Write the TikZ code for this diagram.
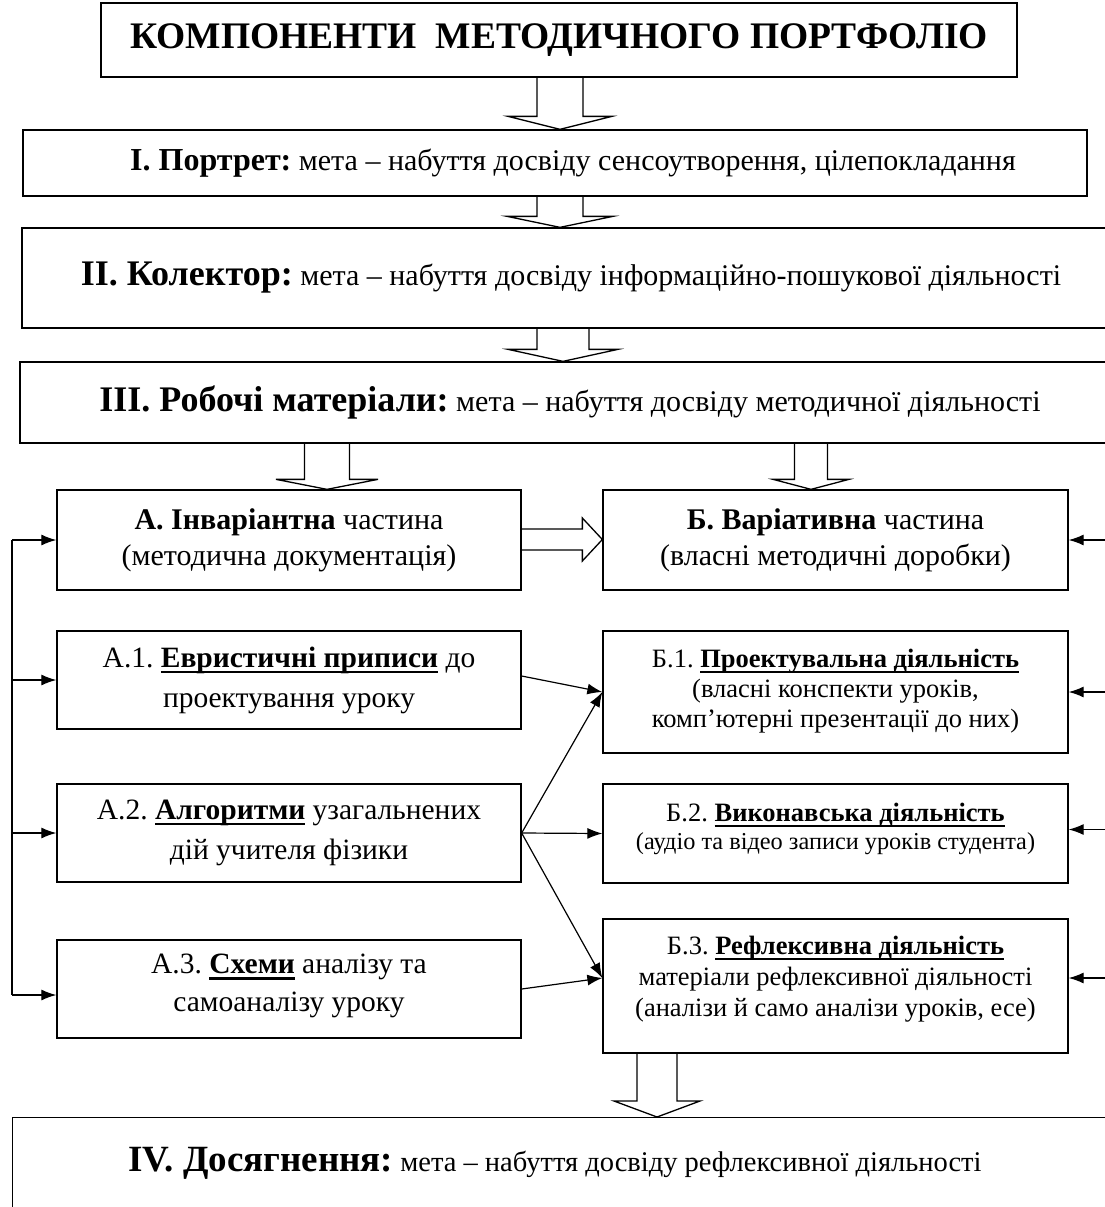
\documentclass[tikz,border=0pt]{standalone}
\usepackage{fontspec}
\setmainfont{Liberation Serif}
\usetikzlibrary{arrows.meta,calc}
\newsavebox\ulbox
\newcommand\ulb[1]{\sbox\ulbox{\bfseries #1}\rlap{\rule[-0.2em]{\wd\ulbox}{0.075em}}\usebox\ulbox}
\newcommand\fs[2]{\fontsize{#1}{#2}\selectfont}
\newcommand\blockdown[6]{%
  \draw[blk] let \p1=(#2), \p2=(#3) in
  (#1pt-#4pt,\y1) -- (#1pt-#4pt,\y2+#6pt) -- (#1pt-#5pt,\y2+#6pt) -- (#1pt,\y2)
  -- (#1pt+#5pt,\y2+#6pt) -- (#1pt+#4pt,\y2+#6pt) -- (#1pt+#4pt,\y1);}
\newcommand\blockright[6]{%
  \draw[blk] let \p1=(#2), \p2=(#3) in
  (\x1,-#1pt+#4pt) -- (\x2-#6pt,-#1pt+#4pt) -- (\x2-#6pt,-#1pt+#5pt) -- (\x2,-#1pt)
  -- (\x2-#6pt,-#1pt-#5pt) -- (\x2-#6pt,-#1pt-#4pt) -- (\x1,-#1pt-#4pt);}
\begin{document}
\frenchspacing
\begin{tikzpicture}[x=1pt,y=-1pt,
  box/.style={draw, line width=1.3pt, fill=white, align=center, inner sep=0pt},
  blk/.style={draw, line width=1.3pt, line join=miter},
  conn/.style={line width=1.2pt, -{Latex[length=15pt,width=11pt]}},
  plain/.style={line width=1.2pt}]
\clip (0,0) rectangle (1105,1207);
\fill[white] (0,0) rectangle (1105,1207);
% main chain
\node[box, minimum width=916, minimum height=74, font=\fs{37.5}{44}\bfseries] (title) at (559,40)
  {КОМПОНЕНТИ\ \ МЕТОДИЧНОГО ПОРТФОЛІО};
\node[box, minimum width=1064, minimum height=66, font=\fs{30}{36}] (port) at (555,163)
  {\hspace*{36pt}{\fs{32}{38}\bfseries І. Портрет:} мета – набуття досвіду сенсоутворення, цілепокладання};
\node[box, minimum width=1098, minimum height=100, font=\fs{30}{36}] (coll) at (571,278)
  {{\fs{36}{42}\bfseries ІІ. Колектор:} мета – набуття досвіду інформаційно-пошукової діяльності};
\node[box, minimum width=1100, minimum height=81, font=\fs{30}{36}] (rob) at (570,402.5)
  {{\fs{36}{42}\bfseries ІІІ. Робочі матеріали:} мета – набуття досвіду методичної діяльності};
% A column
\node[box, minimum width=464, minimum height=100, font=\fs{30}{36}] (a) at (289,540)
  {\textbf{А. Інваріантна} частина\\(методична документація)};
\node[box, minimum width=464, minimum height=98, font=\fs{29.5}{40}] (a1) at (289,680)
  {А.1. \ulb{Евристичні приписи} до\\проектування уроку};
\node[box, minimum width=464, minimum height=98, font=\fs{29.5}{40}] (a2) at (289,833)
  {А.2. \ulb{Алгоритми} узагальнених\\дій учителя фізики};
\node[box, minimum width=464, minimum height=98, font=\fs{29.5}{38}] (a3) at (289,989)
  {А.3. \ulb{Схеми} аналізу та\\самоаналізу уроку\\[-26pt]\mbox{}};
% B column
\node[box, minimum width=465, minimum height=100, font=\fs{30}{36}] (b) at (835.5,540)
  {\textbf{Б. Варіативна} частина\\(власні методичні доробки)};
\node[box, minimum width=465, minimum height=122, font=\fs{26.5}{30}] (b1) at (835.5,692)
  {Б.1. \ulb{Проектувальна діяльність}\\(власні конспекти уроків,\\комп’ютерні презентації до них)\\[-22pt]\mbox{}};
\node[box, minimum width=465, minimum height=99, font=\fs{26.5}{28}] (b2) at (835.5,833.5)
  {Б.2. \ulb{Виконавська діяльність}\\{\fs{24.3}{28}(аудіо та відео записи уроків студента)}\\[-14pt]\mbox{}};
\node[box, minimum width=465, minimum height=134, font=\fs{26.5}{31}] (b3) at (835.5,986)
  {Б.3. \ulb{Рефлексивна діяльність}\\матеріали рефлексивної діяльності\\(аналізи й само аналізи уроків, есе)\\[-11pt]\mbox{}};
% IV
\node[box, minimum width=1108, minimum height=150, anchor=north west] (ach) at (12,1117) {};
\node[font=\fs{28.5}{34}, inner sep=0pt] (achtext) at (555,1163)
  {{\fs{37}{42}\bfseries IV. Досягнення:} мета – набуття досвіду рефлексивної діяльності};
% block arrows
\blockdown{560}{title.south}{port.north}{23}{52}{13}
\blockdown{560}{port.south}{coll.north}{23}{53}{11}
\blockdown{563}{coll.south}{rob.north}{26}{55}{12}
\blockdown{327}{rob.south}{a.north}{22.5}{51}{10}
\blockdown{811}{rob.south}{b.north}{16.5}{38}{10}
\blockdown{657}{b3.south}{ach.north}{20}{43}{16}
\blockright{539.5}{a.east}{b.west}{10.5}{21.5}{20}
% left bar
\coordinate (barT) at (12,540);
\coordinate (barB) at (12,995);
\draw[plain] (barT) -- (barB);
\draw[conn] (barT) -- (a.west);
\draw[conn] (barT |- a1.west) -- (a1.west);
\draw[conn] (barT |- a2.west) -- (a2.west);
\draw[conn] (barB) -- (a3.west |- barB);
% right incoming arrows
\coordinate (r0) at ($(b.east)+(45,0)$);
\coordinate (r1) at ($(b1.east)+(45,0)$);
\coordinate (r2) at ($(b2.east)+(45,-4)$);
\coordinate (r3) at ($(b3.east)+(45,-8)$);
\draw[conn] (r0) -- (b.east);
\draw[conn] (r1) -- (b1.east);
\draw[conn] (r2) -- (b2.east |- r2);
\draw[conn] (r3) -- (b3.east |- r3);
% diagonal links
\draw[conn] ($(a1.east)+(0,-4)$) -- (b1.west);
\draw[conn] (a2.east) -- (b1.west);
\draw[conn] (a2.east) -- (b2.west);
\draw[conn] (a2.east) -- ($(b3.west)+(0,-8)$);
\draw[conn] (a3.east) -- ($(b3.west)+(0,-8)$);
\end{tikzpicture}
\end{document}
